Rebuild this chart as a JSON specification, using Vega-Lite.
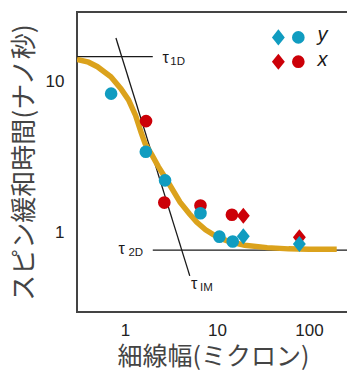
{
  "$schema": "https://vega.github.io/schema/vega-lite/v6.json",
  "width": 272,
  "height": 300,
  "autosize": {"type": "none"},
  "padding": {"left": 77, "top": 12, "right": 0, "bottom": 60},
  "config": {
    "view": {"stroke": "#444", "strokeWidth": 2},
    "font": "Liberation Sans"
  },
  "datasets": {
    "curve": [
      {"w": 0.3, "t": 14.1}, {"w": 0.4, "t": 13.5}, {"w": 0.5, "t": 12.6},
      {"w": 0.7, "t": 10.8}, {"w": 0.9, "t": 9.0}, {"w": 1.0, "t": 8.2},
      {"w": 1.09, "t": 7.6}, {"w": 1.3, "t": 6.0}, {"w": 1.5, "t": 4.6},
      {"w": 1.65, "t": 3.9}, {"w": 1.95, "t": 3.3}, {"w": 2.3, "t": 2.75},
      {"w": 2.96, "t": 2.15}, {"w": 3.96, "t": 1.6}, {"w": 5.0, "t": 1.34},
      {"w": 6.0, "t": 1.18}, {"w": 7.5, "t": 1.05}, {"w": 9.1, "t": 0.975},
      {"w": 11, "t": 0.92}, {"w": 13.8, "t": 0.875}, {"w": 20, "t": 0.83},
      {"w": 35, "t": 0.8}, {"w": 60, "t": 0.785}, {"w": 100, "t": 0.78},
      {"w": 200, "t": 0.78}
    ],
    "xticks": [
      {"w": 0.4, "major": false}, {"w": 0.5, "major": false}, {"w": 0.6, "major": false},
      {"w": 0.7, "major": false}, {"w": 0.8, "major": false}, {"w": 0.9, "major": false},
      {"w": 1, "major": true}, {"w": 2, "major": false}, {"w": 3, "major": false},
      {"w": 4, "major": false}, {"w": 5, "major": false}, {"w": 6, "major": false},
      {"w": 7, "major": false}, {"w": 8, "major": false}, {"w": 9, "major": false},
      {"w": 10, "major": true}, {"w": 20, "major": false}, {"w": 30, "major": false},
      {"w": 40, "major": false}, {"w": 50, "major": false}, {"w": 60, "major": false},
      {"w": 70, "major": false}, {"w": 80, "major": false}, {"w": 90, "major": false},
      {"w": 100, "major": true}, {"w": 200, "major": false}
    ],
    "yticks": [
      {"t": 0.4, "major": false}, {"t": 0.5, "major": false}, {"t": 0.6, "major": false},
      {"t": 0.7, "major": false}, {"t": 0.8, "major": false}, {"t": 0.9, "major": false},
      {"t": 1, "major": true}, {"t": 2, "major": false}, {"t": 3, "major": false},
      {"t": 4, "major": false}, {"t": 5, "major": false}, {"t": 6, "major": false},
      {"t": 7, "major": false}, {"t": 8, "major": false}, {"t": 9, "major": false},
      {"t": 10, "major": true}, {"t": 20, "major": false}
    ],
    "lines": [
      {"name": "tau1D", "w": 0.3, "t": 14.7, "w2": 2.0, "t2": 14.7},
      {"name": "tau2D", "w": 2.0, "t": 0.77, "w2": 272, "t2": 0.77},
      {"name": "tauIM", "w": 0.795, "t": 19.5, "w2": 5.05, "t2": 0.52}
    ],
    "points": [
      {"dir": "x", "kind": "circle", "w": 1.69, "t": 5.5},
      {"dir": "x", "kind": "circle", "w": 2.67, "t": 1.59},
      {"dir": "x", "kind": "circle", "w": 6.6, "t": 1.52},
      {"dir": "x", "kind": "circle", "w": 14.5, "t": 1.32},
      {"dir": "x", "kind": "diamond", "w": 19.3, "t": 1.3},
      {"dir": "x", "kind": "diamond", "w": 78.5, "t": 0.936},
      {"dir": "y", "kind": "circle", "w": 0.705, "t": 8.36},
      {"dir": "y", "kind": "circle", "w": 1.68, "t": 3.45},
      {"dir": "y", "kind": "circle", "w": 2.72, "t": 2.23},
      {"dir": "y", "kind": "circle", "w": 6.6, "t": 1.35},
      {"dir": "y", "kind": "circle", "w": 10.6, "t": 0.945},
      {"dir": "y", "kind": "circle", "w": 14.8, "t": 0.878},
      {"dir": "y", "kind": "diamond", "w": 19.3, "t": 0.95},
      {"dir": "y", "kind": "diamond", "w": 78.5, "t": 0.845},
      {"dir": "y", "kind": "diamond", "w": 46.4, "t": 19.7},
      {"dir": "y", "kind": "circle", "w": 76.5, "t": 19.7},
      {"dir": "x", "kind": "diamond", "w": 46.4, "t": 13.6},
      {"dir": "x", "kind": "circle", "w": 76.5, "t": 13.6}
    ],
    "legendText": [
      {"label": "y", "w": 124, "t": 19.7},
      {"label": "x", "w": 124, "t": 13.6}
    ],
    "tau": [
      {"label": "τ", "w": 2.55, "t": 14.1},
      {"label": "τ", "w": 0.846, "t": 0.775},
      {"label": "τ", "w": 5.22, "t": 0.454}
    ],
    "sub": [
      {"label": "1D", "w": 3.1, "t": 14.1},
      {"label": "2D", "w": 1.087, "t": 0.775},
      {"label": "IM", "w": 6.53, "t": 0.454}
    ]
  },
  "encoding": {
    "x": {"field": "w", "type": "quantitative", "axis": null,
      "scale": {"type": "log", "domain": [0.3, 272], "nice": false, "zero": false}},
    "y": {"field": "t", "type": "quantitative", "axis": null,
      "scale": {"type": "log", "domain": [0.3, 29], "nice": false, "zero": false}}
  },
  "layer": [
    {
      "data": {"name": "curve"},
      "mark": {"type": "line", "opacity": 0},
      "encoding": {
        "x": {"field": "w", "type": "quantitative",
          "scale": {"type": "log", "domain": [0.3, 272], "nice": false, "zero": false},
          "axis": {
            "orient": "bottom", "title": "細線幅(ミクロン)", "domain": false, "grid": false, "ticks": false,
            "values": [1, 10, 100],
            "labelExpr": "datum.value == 1 ? '1' : datum.value == 10 ? '10' : '100'",
            "labelFontSize": 17, "labelColor": "#222", "labelPadding": 10, "labelOverlap": false, "labelFlush": false,
            "titleFont": "Noto Sans CJK JP", "titleFontSize": 25, "titleFontWeight": "normal", "titleColor": "#444",
            "titlePadding": 6
          }
        },
        "y": {"field": "t", "type": "quantitative",
          "scale": {"type": "log", "domain": [0.3, 29], "nice": false, "zero": false},
          "axis": {
            "orient": "left", "title": "スピン緩和時間(ナノ秒)", "domain": false, "grid": false, "ticks": false,
            "values": [1, 10],
            "labelExpr": "datum.value == 1 ? '1' : '10'",
            "labelFontSize": 17, "labelColor": "#222", "labelPadding": 13, "labelOverlap": false, "labelFlush": false,
            "titleFont": "Noto Sans CJK JP", "titleFontSize": 26, "titleFontWeight": "normal", "titleColor": "#444",
            "titlePadding": 8
          }
        }
      }
    },
    {
      "data": {"name": "xticks"},
      "transform": [{"filter": "datum.major"}],
      "mark": {"type": "rule", "color": "#222", "strokeWidth": 1.5, "y2Offset": -7},
      "encoding": {"y": {"datum": 0.3}, "y2": {"datum": 0.3}}
    },
    {
      "data": {"name": "xticks"},
      "transform": [{"filter": "!datum.major"}],
      "mark": {"type": "rule", "color": "#222", "strokeWidth": 1.5, "y2Offset": -4},
      "encoding": {"y": {"datum": 0.3}, "y2": {"datum": 0.3}}
    },
    {
      "data": {"name": "xticks"},
      "transform": [{"filter": "datum.major"}],
      "mark": {"type": "rule", "color": "#222", "strokeWidth": 1.5, "y2Offset": 7},
      "encoding": {"y": {"datum": 29}, "y2": {"datum": 29}}
    },
    {
      "data": {"name": "xticks"},
      "transform": [{"filter": "!datum.major"}],
      "mark": {"type": "rule", "color": "#222", "strokeWidth": 1.5, "y2Offset": 4},
      "encoding": {"y": {"datum": 29}, "y2": {"datum": 29}}
    },
    {
      "data": {"name": "yticks"},
      "transform": [{"filter": "datum.major"}],
      "mark": {"type": "rule", "color": "#222", "strokeWidth": 1.5, "x2Offset": 7},
      "encoding": {"x": {"datum": 0.3}, "x2": {"datum": 0.3}}
    },
    {
      "data": {"name": "yticks"},
      "transform": [{"filter": "!datum.major"}],
      "mark": {"type": "rule", "color": "#222", "strokeWidth": 1.5, "x2Offset": 4},
      "encoding": {"x": {"datum": 0.3}, "x2": {"datum": 0.3}}
    },
    {
      "data": {"name": "lines"},
      "mark": {"type": "rule", "color": "#1a1a1a", "strokeWidth": 1.3, "clip": true},
      "encoding": {
        "x2": {"field": "w2"},
        "y2": {"field": "t2"}
      }
    },
    {
      "data": {"name": "curve"},
      "mark": {"type": "line", "color": "#dba21c", "strokeWidth": 5.5, "clip": true},
      "encoding": {}
    },
    {
      "data": {"name": "points"},
      "mark": {"type": "point", "filled": true, "opacity": 1},
      "encoding": {
        "color": {"field": "dir", "type": "nominal", "legend": null,
          "scale": {"domain": ["y", "x"], "range": ["#109cc0", "#cc0008"]}},
        "shape": {"field": "kind", "type": "nominal", "legend": null,
          "scale": {"domain": ["circle", "diamond"], "range": ["circle", "M0,-1L0.8,0L0,1L-0.8,0Z"]}},
        "size": {"field": "kind", "type": "nominal", "legend": null,
          "scale": {"domain": ["circle", "diamond"], "range": [160, 260]}}
      }
    },
    {
      "data": {"name": "legendText"},
      "mark": {"type": "text", "align": "left", "baseline": "middle", "fontSize": 20, "fontStyle": "italic", "color": "#1a1a1a", "dy": -2},
      "encoding": {"text": {"field": "label"}}
    },
    {
      "data": {"name": "tau"},
      "mark": {"type": "text", "align": "left", "baseline": "middle", "fontSize": 16, "color": "#1a1a1a", "dy": -1},
      "encoding": {"text": {"field": "label"}}
    },
    {
      "data": {"name": "sub"},
      "mark": {"type": "text", "align": "left", "baseline": "middle", "fontSize": 11.5, "color": "#1a1a1a", "dy": 3},
      "encoding": {"text": {"field": "label"}}
    }
  ],
  "resolve": {"axis": {"x": "independent", "y": "independent"}}
}
